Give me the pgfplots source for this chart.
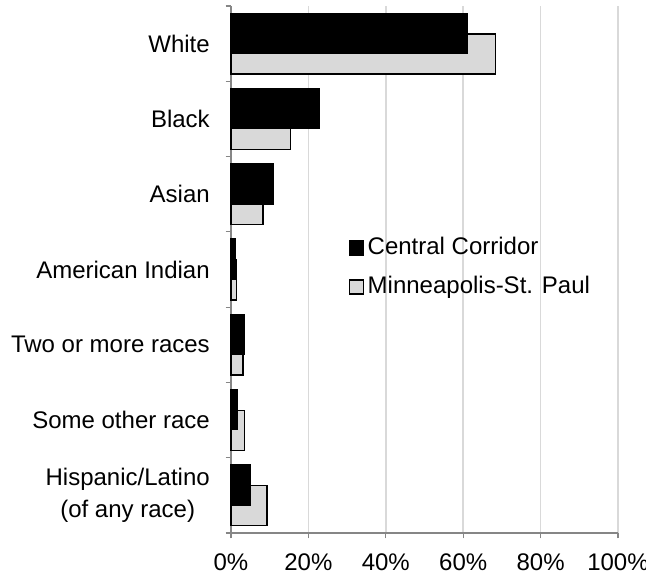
\documentclass[border=0pt]{standalone}
\usepackage{pgfplots}
\pgfplotsset{compat=1.18}
\usepackage{fontspec}
\setmainfont{Liberation Sans}
\definecolor{msp}{HTML}{D9D9D9}
\definecolor{gridc}{HTML}{D9D9D9}
\definecolor{axc}{HTML}{868686}
\begin{document}
\begin{tikzpicture}
\useasboundingbox (-173.25pt,-31.5pt) rectangle (311.25pt,399.75pt);
\begin{axis}[
  at={(0pt,0pt)}, anchor=south west,
  scale only axis,
  width=290.25pt, height=395.25pt,
  xbar, bar width=30pt,
  xmin=0, xmax=100,
  ymin=-0.5, ymax=6.5,
  axis lines*=left,
  axis line style={axc, line width=0.9pt},
  xtick={0,20,40,60,80,100},
  xticklabels={0\%,20\%,40\%,60\%,80\%,100\%},
  ytick={0,1,2,3,4,5,6},
  yticklabels={{Hispanic/Latino\\[3pt](of any race)},Some other race,Two or more races,American Indian,Asian,Black,White},
  minor ytick={-0.5,0.5,1.5,2.5,3.5,4.5,5.5,6.5},
  tick align=outside,
  major tick length=4pt,
  minor tick length=4pt,
  every tick/.style={axc, line width=0.9pt},
  y tick style={draw=none},
  minor y tick style={draw=axc, line width=0.9pt},
  xmajorgrids,
  major grid style={gridc, line width=1.1pt},
  tick label style={font=\fontsize{18pt}{21pt}\selectfont, text=black},
  yticklabel style={align=center, inner sep=0pt, xshift=-11.75pt},
  xticklabel style={inner sep=0pt, yshift=-11pt},
  legend image code/.code={\draw[#1, line width=0.8pt] (0pt,-5.25pt) rectangle (10.5pt,5.25pt);},
  legend style={draw=none, fill=none, inner sep=0pt, outer sep=0pt,
    at={(rel axis cs:0.304,0.5623)}, anchor=north west,
    font=\fontsize{18pt}{21pt}\selectfont, row sep=12.25pt,
    nodes={inner sep=0pt, text height=13pt, text depth=4pt}},
  legend cell align=left,
  clip=false,
]
\addplot[fill=msp, draw=black, line width=1.1pt, bar shift=-7.8pt, forget plot] coordinates {
(9.3,0) (3.5,1) (3.1,2) (1.4,3) (8.3,4) (15.4,5) (68.3,6)};
\addplot[fill=black, draw=black, line width=1.1pt, bar shift=7.8pt] coordinates {
(5.0,0) (1.7,1) (3.3,2) (1.0,3) (11.0,4) (22.7,5) (61.0,6)};
\addlegendentry{\,Central Corridor}
\addlegendimage{fill=msp, draw=black}
\addlegendentry{\,Minneapolis-St. Paul}
\end{axis}
\end{tikzpicture}
\end{document}
